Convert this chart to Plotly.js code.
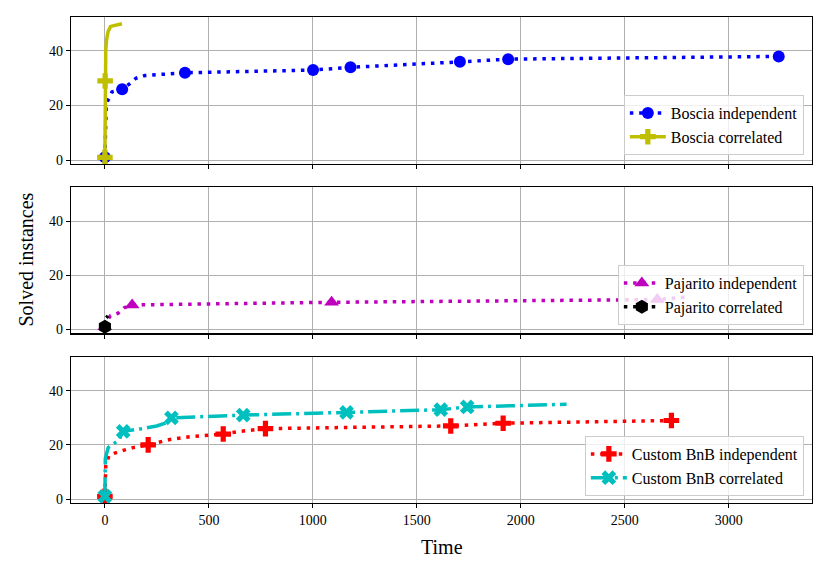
<!DOCTYPE html>
<html>
<head>
<meta charset="utf-8">
<script src="https://cdn.plot.ly/plotly-3.0.1.min.js"></script>
<style>html,body{margin:0;padding:0;background:#fff;}#chart{width:830px;height:575px;}</style>
</head>
<body>
<div id="chart"></div>
<script>
// ---- Data (time in seconds, cumulative solved instances) ----
const bosciaIndT = [0, 3, 6, 15, 24, 34, 83, 120, 149, 192, 385, 1001, 1181, 1707, 1939, 3240];
const bosciaIndY = [1, 10, 20, 22, 23, 25, 26, 28, 30, 31, 32, 33, 34, 36, 37, 38];
const bosciaIndMarks = [0, 6, 10, 11, 12, 13, 14, 15];

const bosciaCorT = [0, 1, 4, 8, 15, 27, 82];
const bosciaCorY = [1, 29, 40, 44, 47, 49, 50];
const bosciaCorMarks = [0, 1];

const pajIndT = [0, 8, 27, 64, 93, 131, 1090, 2656, 2805];
const pajIndY = [1, 3, 5, 6, 8, 9, 10, 11, 12];
const pajIndMarks = [0, 5, 6, 7];

const pajCorT = [0, 1, 2, 3, 15];
const pajCorY = [1, 2, 3, 4, 5];
const pajCorMarks = [0];

const bnbIndT = [0, 4, 19, 48, 88, 136, 208, 264, 313, 409, 481, 569, 650, 772, 1663, 1915, 2724];
const bnbIndY = [1, 12, 16, 17, 18, 19, 20, 21, 22, 23, 23.5, 24, 25, 26, 27, 28, 29];
const bnbIndMarks = [0, 6, 11, 13, 14, 15, 16];

const bnbCorT = [0, 2, 16, 48, 70, 80, 88, 176, 249, 290, 310, 320, 665, 1162, 1615, 1742, 2220];
const bnbCorY = [1, 15, 19, 21, 22, 24, 25, 26, 27, 28, 29, 30, 31, 32, 33, 34, 35];
const bnbCorMarks = [0, 6, 11, 12, 13, 14, 15];

const xTicks = [0, 500, 1000, 1500, 2000, 2500, 3000];
const yTicks = [0, 20, 40];

// ---- Styles ----
const DOT = "3.5px,5.8px";
const DASHDOT = "19px,5px,3px,5px";
const series = [
  {name: "Boscia independent", t: bosciaIndT, y: bosciaIndY, m: bosciaIndMarks, color: "#0000ff", dash: DOT, sym: "circle", size: 12, ax: 1},
  {name: "Boscia correlated", t: bosciaCorT, y: bosciaCorY, m: bosciaCorMarks, color: "#bfbf00", dash: "solid", sym: "cross", size: 13, ax: 1},
  {name: "Pajarito independent", t: pajIndT, y: pajIndY, m: pajIndMarks, color: "#bf00bf", dash: DOT, sym: "triangle-up", size: 13, ax: 2},
  {name: "Pajarito correlated", t: pajCorT, y: pajCorY, m: pajCorMarks, color: "#000000", dash: DOT, sym: "hexagon", size: 14, ax: 2},
  {name: "Custom BnB independent", t: bnbIndT, y: bnbIndY, m: bnbIndMarks, color: "#ff0000", dash: DOT, sym: "cross", size: 13, ax: 3},
  {name: "Custom BnB correlated", t: bnbCorT, y: bnbCorY, m: bnbCorMarks, color: "#00bfbf", dash: DASHDOT, sym: "x", size: 13, ax: 3}
];

const traces = [];
series.forEach(s => {
  const xa = s.ax === 1 ? "x" : "x" + s.ax;
  const ya = s.ax === 1 ? "y" : "y" + s.ax;
  const lg = s.ax === 1 ? "legend" : "legend" + s.ax;
  traces.push({
    type: "scatter", mode: "lines", x: s.t, y: s.y, xaxis: xa, yaxis: ya,
    line: {color: s.color, width: 3.5, dash: s.dash}, showlegend: false, hoverinfo: "skip"
  });
  traces.push({
    type: "scatter", mode: "markers",
    x: s.m.map(i => s.t[i]), y: s.m.map(i => s.y[i]), xaxis: xa, yaxis: ya,
    marker: {color: s.color, symbol: s.sym, size: s.size, line: {width: 0}},
    showlegend: false, hoverinfo: "skip"
  });
  traces.push({
    type: "scatter", mode: "lines+markers", x: [null], y: [null], xaxis: xa, yaxis: ya,
    name: s.name, legend: lg,
    line: {color: s.color, width: 3.5, dash: s.dash},
    marker: {color: s.color, symbol: s.sym, size: s.size, line: {width: 0}}
  });
});

const FONT = "Liberation Serif";
const xRange = [-163, 3400];
const yRange = [-1.45, 52.45];
const H = 486;
const doms = [[(503 - 164) / H, 1], [(503 - 333.3) / H, (503 - 187.3) / H], [0, 146 / H]];

function xaxis(anchor, labels) {
  return {
    domain: [0, 1], anchor: anchor, range: xRange, tickvals: xTicks, ticktext: xTicks.map(String),
    showticklabels: labels, ticks: "outside", ticklen: 4, tickwidth: 1, tickcolor: "#000",
    showgrid: true, gridcolor: "#b0b0b0", gridwidth: 1, zeroline: false,
    showline: true, linecolor: "#000", linewidth: 1.2, mirror: true,
    tickfont: {family: FONT, size: 14, color: "#000"}
  };
}
function yaxis(anchor, dom) {
  return {
    domain: dom, anchor: anchor, range: yRange, tickvals: yTicks, ticktext: yTicks.map(String),
    ticks: "outside", ticklen: 4, tickwidth: 1, tickcolor: "#000",
    showgrid: true, gridcolor: "#b0b0b0", gridwidth: 1, zeroline: false,
    showline: true, linecolor: "#000", linewidth: 1.2, mirror: true,
    tickfont: {family: FONT, size: 14, color: "#000"}
  };
}
function legend(yb) {
  return {
    x: 0.989, xanchor: "right", y: yb, yanchor: "bottom",
    bgcolor: "rgba(255,255,255,0.8)", bordercolor: "#cccccc", borderwidth: 1,
    font: {family: FONT, size: 16, color: "#000"}, itemwidth: 36
  };
}

const layout = {
  width: 830, height: 575,
  margin: {l: 71, r: 18, t: 17, b: 72},
  paper_bgcolor: "#fff", plot_bgcolor: "#fff",
  font: {family: FONT, color: "#000"},
  xaxis: xaxis("y", false), xaxis2: xaxis("y2", false), xaxis3: xaxis("y3", true),
  yaxis: yaxis("x", doms[0]), yaxis2: yaxis("x2", doms[1]), yaxis3: yaxis("x3", doms[2]),
  legend: legend((503 - 155) / H), legend2: legend((503 - 325) / H), legend3: legend((503 - 496) / H),
  annotations: [
    {text: "Solved instances", xref: "paper", yref: "paper", x: (25.5 - 71) / 741, y: (503 - 260) / H,
     xanchor: "center", yanchor: "middle", textangle: -90, showarrow: false, font: {family: FONT, size: 20, color: "#000"}},
    {text: "Time", xref: "paper", yref: "paper", x: 0.5, y: (503 - 547) / H,
     xanchor: "center", yanchor: "middle", showarrow: false, font: {family: FONT, size: 20, color: "#000"}}
  ],
  showlegend: true
};

Plotly.newPlot("chart", traces, layout, {displayModeBar: false, staticPlot: true});
</script>
</body>
</html>
